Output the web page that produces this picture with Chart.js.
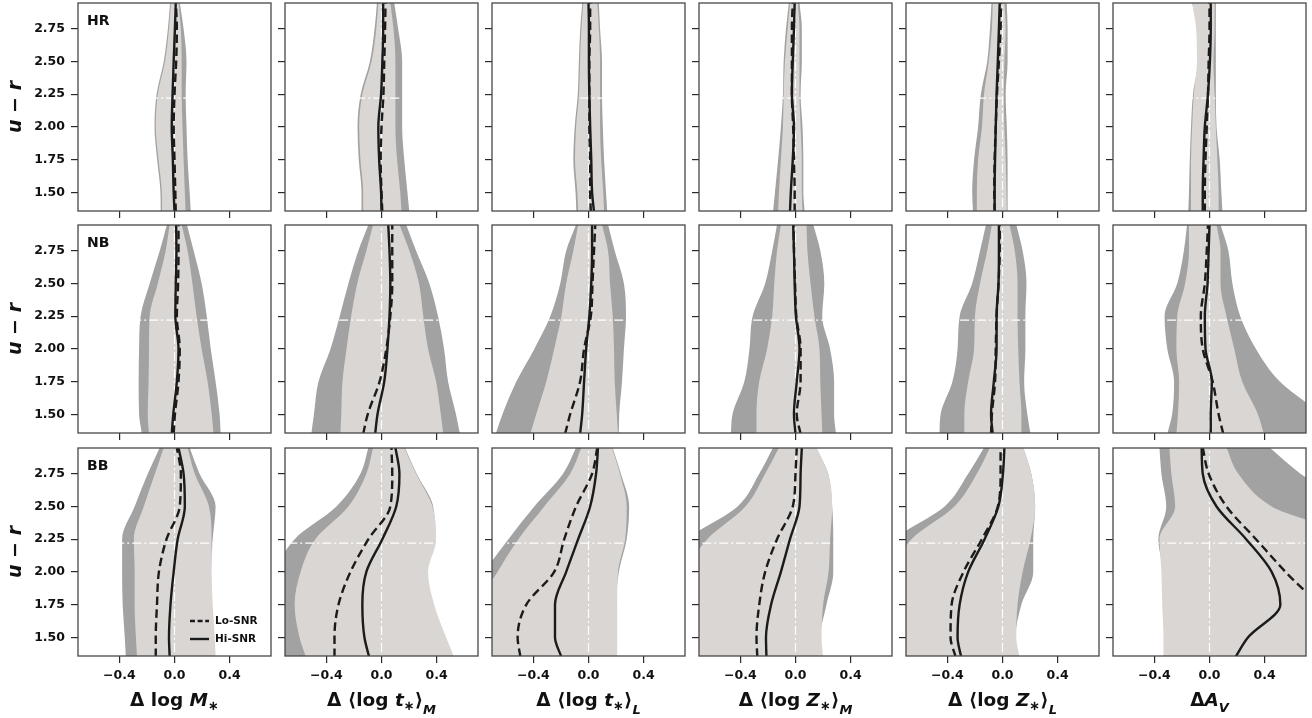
<!DOCTYPE html>
<html>
<head>
<meta charset="utf-8">
<script src="https://cdn.jsdelivr.net/npm/chart.js@4.4.1/dist/chart.umd.min.js"></script>
<style>
  html, body { margin: 0; padding: 0; background: #ffffff; }
  #fig { position: relative; width: 1312px; height: 718px; overflow: hidden; background: #ffffff; }
  #fig canvas { position: absolute; }
</style>
</head>
<body>
<div id="fig"></div>
<script>
// u − r levels at which every curve is sampled (bottom to top)
const uR = [1.35, 1.5, 1.75, 2.0, 2.25, 2.5, 2.75, 2.95];

const xTickVals = [-0.4, 0, 0.4];
const yTickVals = [1.5, 1.75, 2.0, 2.25, 2.5, 2.75];
const xRange = [-0.7, 0.7];
const yRange = [1.357, 2.947];
const crossX = 0;      // zero-offset guide
const crossU = 2.22;   // colour split guide

const rowNames = ['HR', 'NB', 'BB'];
const legendNames = ['Lo-SNR', 'Hi-SNR'];
const yAxisTitle = 'u − r';

// Rows of each panel:
// Lo-SNR band left, Lo-SNR band right, Hi-SNR band left, Hi-SNR band right, Lo-SNR median, Hi-SNR median
const HR_logM = [
  [-0.100, -0.102, -0.126, -0.145, -0.130, -0.078, -0.048, -0.032],
  [ 0.118,  0.110,  0.095,  0.087,  0.081,  0.087,  0.066,  0.038],
  [-0.090, -0.092, -0.116, -0.136, -0.121, -0.069, -0.040, -0.026],
  [ 0.081,  0.075,  0.066,  0.058,  0.052,  0.052,  0.046,  0.029],
  [ 0.009,  0.006,  0.000, -0.006,  0.000,  0.012,  0.017,  0.010],
  [ 0.000, -0.006, -0.012, -0.020, -0.014, -0.006,  0.003,  0.009]
];
const HR_tM = [
  [-0.145, -0.145, -0.165, -0.174, -0.151, -0.084, -0.050, -0.033],
  [ 0.202,  0.188,  0.165,  0.150,  0.150,  0.150,  0.121,  0.092],
  [-0.133, -0.133, -0.153, -0.162, -0.139, -0.072, -0.038, -0.023],
  [ 0.145,  0.136,  0.113,  0.101,  0.101,  0.101,  0.087,  0.064],
  [ 0.006,  0.000, -0.006,  0.000,  0.014,  0.020,  0.026,  0.029],
  [ 0.000, -0.003, -0.017, -0.023, -0.003,  0.006,  0.012,  0.012]
];
const HR_tL = [
  [-0.088, -0.094, -0.110, -0.100, -0.078, -0.070, -0.060, -0.045],
  [ 0.136,  0.127,  0.113,  0.104,  0.098,  0.098,  0.084,  0.075],
  [-0.075, -0.081, -0.098, -0.090, -0.069, -0.061, -0.052, -0.038],
  [ 0.113,  0.107,  0.092,  0.084,  0.084,  0.084,  0.075,  0.064],
  [ 0.017,  0.012,  0.012,  0.006,  0.006,  0.006,  0.012,  0.012],
  [ 0.040,  0.026,  0.020,  0.012,  0.006,  0.003,  0.003,  0.000]
];
const HR_ZM = [
  [-0.163, -0.149, -0.126, -0.106, -0.091, -0.086, -0.069, -0.048],
  [ 0.066,  0.057,  0.057,  0.051,  0.037,  0.046,  0.046,  0.029],
  [-0.126, -0.120, -0.106, -0.091, -0.086, -0.077, -0.057, -0.040],
  [ 0.051,  0.046,  0.046,  0.037,  0.029,  0.029,  0.029,  0.017],
  [-0.006, -0.006, -0.011, -0.017, -0.026, -0.026, -0.026, -0.020],
  [-0.040, -0.034, -0.020, -0.011, -0.026, -0.020, -0.011, -0.006]
];
const HR_ZL = [
  [-0.214, -0.220, -0.206, -0.177, -0.157, -0.111, -0.091, -0.080],
  [ 0.037,  0.037,  0.037,  0.031,  0.023,  0.037,  0.037,  0.031],
  [-0.186, -0.186, -0.177, -0.149, -0.134, -0.100, -0.077, -0.071],
  [ 0.031,  0.029,  0.023,  0.014,  0.009,  0.014,  0.023,  0.014],
  [-0.057, -0.060, -0.057, -0.049, -0.040, -0.026, -0.014, -0.011],
  [-0.057, -0.057, -0.054, -0.049, -0.043, -0.034, -0.026, -0.020]
];
const HR_AV = [
  [-0.154, -0.149, -0.143, -0.134, -0.120, -0.086, -0.091, -0.126],
  [ 0.094,  0.086,  0.074,  0.051,  0.046,  0.046,  0.046,  0.046],
  [-0.134, -0.134, -0.134, -0.126, -0.114, -0.091, -0.097, -0.126],
  [ 0.066,  0.066,  0.057,  0.046,  0.037,  0.029,  0.037,  0.037],
  [-0.034, -0.034, -0.029, -0.020, -0.011, -0.006,  0.000,  0.000],
  [-0.049, -0.049, -0.043, -0.034, -0.011,  0.003,  0.009,  0.009]
];

const NB_logM = [
  [-0.237, -0.257, -0.260, -0.257, -0.246, -0.180, -0.107, -0.055],
  [ 0.335,  0.327,  0.298,  0.263,  0.234,  0.197,  0.139,  0.090],
  [-0.185, -0.194, -0.188, -0.185, -0.180, -0.121, -0.064, -0.035],
  [ 0.283,  0.270,  0.240,  0.197,  0.160,  0.130,  0.095,  0.052],
  [-0.006,  0.003,  0.029,  0.038,  0.017,  0.026,  0.029,  0.029],
  [-0.020, -0.009,  0.017,  0.029,  0.006,  0.009,  0.014,  0.012]
];
const NB_tM = [
  [-0.509, -0.490, -0.457, -0.370, -0.303, -0.240, -0.168, -0.095],
  [ 0.569,  0.540,  0.483,  0.454,  0.410,  0.347,  0.251,  0.179],
  [-0.298, -0.292, -0.283, -0.254, -0.220, -0.176, -0.110, -0.061],
  [ 0.448,  0.430,  0.396,  0.338,  0.303,  0.272,  0.202,  0.130],
  [-0.133, -0.100, -0.014,  0.035,  0.064,  0.078,  0.078,  0.078],
  [-0.046, -0.029,  0.020,  0.043,  0.058,  0.064,  0.058,  0.049]
];
const NB_tL = [
  [-0.673, -0.624, -0.523, -0.393, -0.277, -0.205, -0.162, -0.090],
  [ 0.220,  0.223,  0.243,  0.257,  0.272,  0.257,  0.190,  0.142],
  [-0.422, -0.379, -0.306, -0.249, -0.197, -0.162, -0.110, -0.075],
  [ 0.214,  0.205,  0.190,  0.185,  0.176,  0.156,  0.142,  0.098],
  [-0.170, -0.133, -0.061, -0.032,  0.017,  0.029,  0.040,  0.049],
  [-0.061, -0.046, -0.032, -0.017,  0.006,  0.020,  0.026,  0.026]
];
const NB_ZM = [
  [-0.469, -0.457, -0.371, -0.334, -0.311, -0.220, -0.169, -0.134],
  [ 0.294,  0.280,  0.280,  0.251,  0.194,  0.209,  0.180,  0.129],
  [-0.283, -0.283, -0.263, -0.206, -0.169, -0.154, -0.134, -0.106],
  [ 0.194,  0.189,  0.180,  0.174,  0.137,  0.109,  0.086,  0.080],
  [ 0.037,  0.009,  0.037,  0.037,  0.006, -0.003, -0.011, -0.014],
  [ 0.000, -0.011,  0.009,  0.029,  0.003, -0.006, -0.011, -0.017]
];
const NB_ZL = [
  [-0.457, -0.449, -0.363, -0.326, -0.311, -0.220, -0.163, -0.120],
  [ 0.203,  0.180,  0.157,  0.166,  0.166,  0.174,  0.146,  0.100],
  [-0.277, -0.277, -0.249, -0.206, -0.200, -0.163, -0.111, -0.077],
  [ 0.137,  0.137,  0.123,  0.114,  0.109,  0.109,  0.089,  0.051],
  [-0.083, -0.077, -0.054, -0.049, -0.043, -0.029, -0.020, -0.020],
  [-0.071, -0.083, -0.063, -0.043, -0.043, -0.029, -0.026, -0.026]
];
const NB_AV = [
  [-0.306, -0.271, -0.257, -0.306, -0.326, -0.234, -0.186, -0.163],
  [ 0.900,  0.800,  0.510,  0.337,  0.223,  0.166,  0.137,  0.080],
  [-0.240, -0.229, -0.220, -0.240, -0.234, -0.177, -0.149, -0.149],
  [ 0.394,  0.351,  0.237,  0.180,  0.123,  0.080,  0.080,  0.051],
  [ 0.100,  0.066,  0.023, -0.049, -0.063, -0.034, -0.020, -0.011],
  [ 0.009,  0.009,  0.017, -0.029, -0.034, -0.014, -0.006,  0.000]
];

const BB_logM = [
  [-0.353, -0.361, -0.376, -0.380, -0.380, -0.289, -0.194, -0.107],
  [ 0.290,  0.285,  0.270,  0.265,  0.277,  0.298,  0.182,  0.110],
  [-0.272, -0.280, -0.289, -0.289, -0.295, -0.223, -0.142, -0.078],
  [ 0.298,  0.292,  0.277,  0.269,  0.269,  0.250,  0.147,  0.095],
  [-0.136, -0.136, -0.127, -0.113, -0.058,  0.038,  0.046,  0.017],
  [-0.035, -0.040, -0.029, -0.006,  0.023,  0.075,  0.066,  0.029]
];
const BB_tM = [
  [-0.750, -0.750, -0.750, -0.750, -0.630, -0.327, -0.153, -0.095],
  [ 0.500,  0.450,  0.370,  0.330,  0.390,  0.375,  0.255,  0.170],
  [-0.549, -0.595, -0.630, -0.587, -0.480, -0.240, -0.110, -0.061],
  [ 0.526,  0.468,  0.382,  0.338,  0.396,  0.370,  0.251,  0.165],
  [-0.341, -0.341, -0.312, -0.225, -0.095,  0.064,  0.078,  0.072],
  [-0.090, -0.124, -0.139, -0.110,  0.006,  0.107,  0.130,  0.101]
];
const BB_tL = [
  [-0.850, -0.850, -0.850, -0.750, -0.581, -0.393, -0.185, -0.090],
  [ 0.200,  0.200,  0.200,  0.220,  0.277,  0.295,  0.235,  0.175],
  [-0.800, -0.800, -0.800, -0.660, -0.509, -0.321, -0.133, -0.052],
  [ 0.208,  0.208,  0.208,  0.214,  0.266,  0.277,  0.228,  0.171],
  [-0.494, -0.514, -0.451, -0.249, -0.176, -0.090,  0.026,  0.064],
  [-0.197, -0.243, -0.243, -0.162, -0.075,  0.012,  0.055,  0.069]
];
const BB_ZM = [
  [-0.900, -0.900, -0.900, -0.900, -0.780, -0.420, -0.263, -0.163],
  [ 0.190,  0.180,  0.225,  0.274,  0.274,  0.266,  0.237,  0.151],
  [-0.850, -0.850, -0.850, -0.800, -0.640, -0.363, -0.220, -0.120],
  [ 0.200,  0.189,  0.200,  0.240,  0.251,  0.266,  0.237,  0.151],
  [-0.277, -0.283, -0.263, -0.220, -0.134, -0.020,  0.000,  0.009],
  [-0.211, -0.214, -0.177, -0.106, -0.040,  0.029,  0.037,  0.046]
];
const BB_ZL = [
  [-0.900, -0.900, -0.900, -0.900, -0.780, -0.420, -0.249, -0.134],
  [ 0.115,  0.095,  0.137,  0.223,  0.223,  0.237,  0.209,  0.151],
  [-0.850, -0.850, -0.850, -0.800, -0.660, -0.349, -0.186, -0.091],
  [ 0.123,  0.100,  0.109,  0.146,  0.203,  0.237,  0.209,  0.151],
  [-0.340, -0.377, -0.369, -0.283, -0.150, -0.034, -0.014, -0.014],
  [-0.300, -0.326, -0.311, -0.249, -0.130, -0.030,  0.003,  0.014]
];
const BB_AV = [
  [-0.320, -0.320, -0.330, -0.335, -0.371, -0.314, -0.349, -0.363],
  [ 1.000,  1.000,  1.000,  1.000,  1.000,  1.000,  0.660,  0.437],
  [-0.334, -0.334, -0.343, -0.349, -0.363, -0.249, -0.277, -0.291],
  [ 0.900,  0.900,  0.900,  0.900,  1.000,  0.451,  0.209,  0.123],
  [ 0.950,  0.900,  0.780,  0.551,  0.337,  0.123, -0.006, -0.049],
  [ 0.189,  0.280,  0.514,  0.451,  0.266,  0.051, -0.049, -0.057]
];

// Column axis titles, drawn piece by piece (italic / subscript runs)
const colTitles = [
  [{t: 'Δ log '}, {t: 'M', it: true}, {t: '∗', sub: true, dy: 4}],
  [{t: 'Δ ⟨log '}, {t: 't', it: true}, {t: '∗', sub: true, dy: 4}, {t: '⟩'}, {t: 'M', it: true, sub: true, dy: 8}],
  [{t: 'Δ ⟨log '}, {t: 't', it: true}, {t: '∗', sub: true, dy: 4}, {t: '⟩'}, {t: 'L', it: true, sub: true, dy: 8}],
  [{t: 'Δ ⟨log '}, {t: 'Z', it: true}, {t: '∗', sub: true, dy: 4}, {t: '⟩'}, {t: 'M', it: true, sub: true, dy: 8}],
  [{t: 'Δ ⟨log '}, {t: 'Z', it: true}, {t: '∗', sub: true, dy: 4}, {t: '⟩'}, {t: 'L', it: true, sub: true, dy: 8}],
  [{t: 'Δ'}, {t: 'A', it: true}, {t: 'V', it: true, sub: true, dy: 6}]
];

const grid = [
  [HR_logM, HR_tM, HR_tL, HR_ZM, HR_ZL, HR_AV],
  [NB_logM, NB_tM, NB_tL, NB_ZM, NB_ZL, NB_AV],
  [BB_logM, BB_tM, BB_tL, BB_ZM, BB_ZL, BB_AV]
];

// ---- styling / layout ----
const FONT = '"DejaVu Sans", "Liberation Sans", sans-serif';
const DARK = '#a3a2a3';
const LIGHT = '#dad6d3';
const INK = '#1b1b1b';
const FRAME = '#474747';
const plotW = 193, plotH = 208;
const colLeft = [78, 285, 492, 699, 906, 1113];
const rowTop = [3, 225, 448];

Chart.defaults.font.family = FONT;
Chart.defaults.color = '#111111';

function pts(xs) {
  return xs.map((x, i) => ({x: x, y: uR[i]}));
}

function drawRich(ctx, parts, cx, base) {
  const fontOf = p => (p.it ? 'italic ' : '') + 'bold ' + (p.sub ? 13 : 18.5) + 'px ' + FONT;
  const widths = parts.map(p => { ctx.font = fontOf(p); return ctx.measureText(p.t).width; });
  const total = widths.reduce((a, b) => a + b, 0);
  let x = cx - total / 2;
  ctx.textAlign = 'left';
  ctx.textBaseline = 'alphabetic';
  parts.forEach((p, i) => {
    ctx.font = fontOf(p);
    ctx.fillText(p.t, x, base + (p.dy || 0));
    x += widths[i];
  });
}

// Frame, panel tag, legend and bottom-axis title
const panelDeco = {
  id: 'panelDeco',
  afterDatasetsDraw(chart, args, o) {
    const ctx = chart.ctx;
    const a = chart.chartArea;
    ctx.save();
    ctx.strokeStyle = FRAME;
    ctx.lineWidth = 1.3;
    ctx.setLineDash([]);
    ctx.strokeRect(a.left, a.top, a.right - a.left, a.bottom - a.top);

    ctx.fillStyle = '#111111';
    if (o.tag) {
      ctx.font = 'bold 14px ' + FONT;
      ctx.textAlign = 'left';
      ctx.textBaseline = 'alphabetic';
      ctx.fillText(o.tag, a.left + 9, a.top + 22);
    }
    if (o.legend) {
      const items = [{name: legendNames[0], dash: [5, 2.6]}, {name: legendNames[1], dash: []}];
      items.forEach((it, k) => {
        const y = a.bottom - 35 + 18 * k;
        ctx.strokeStyle = INK;
        ctx.lineWidth = 2.4;
        ctx.setLineDash(it.dash);
        ctx.beginPath();
        ctx.moveTo(a.right - 81, y);
        ctx.lineTo(a.right - 62, y);
        ctx.stroke();
        ctx.setLineDash([]);
        ctx.font = 'bold 10.5px ' + FONT;
        ctx.textAlign = 'left';
        ctx.textBaseline = 'middle';
        ctx.fillText(it.name, a.right - 56, y + 0.5);
      });
    }
    if (o.xTitle) {
      drawRich(ctx, o.xTitle, (a.left + a.right) / 2, a.bottom + 50);
    }
    ctx.restore();
  }
};
Chart.register(panelDeco);

const fig = document.getElementById('fig');

function makePanel(r, c) {
  const d = grid[r][c];
  const ML = c === 0 ? 78 : 12;
  const MB = r === 2 ? 62 : 12;
  const MT = 3, MR = 3;
  const cv = document.createElement('canvas');
  cv.width = ML + plotW + MR;
  cv.height = MT + plotH + MB;
  cv.style.width = cv.width + 'px';
  cv.style.height = cv.height + 'px';
  cv.style.left = (colLeft[c] - ML) + 'px';
  cv.style.top = (rowTop[r] - MT) + 'px';
  fig.appendChild(cv);

  const curve = {pointRadius: 0, cubicInterpolationMode: 'monotone', clip: 0};
  const datasets = [
    Object.assign({label: legendNames[1], data: pts(d[5]), borderColor: INK, borderWidth: 2.4, fill: false, order: 0}, curve),
    Object.assign({label: legendNames[0], data: pts(d[4]), borderColor: INK, borderWidth: 2.4, borderDash: [8.5, 4.5], fill: false, order: 1}, curve),
    {label: 'x0', data: [{x: crossX, y: yRange[0] - 0.1}, {x: crossX, y: yRange[1] + 0.1}],
     borderColor: '#ffffff', borderWidth: 1.2, borderDash: [9, 3, 2, 3], fill: false, tension: 0, pointRadius: 0, clip: 0, order: 2},
    {label: 'u0', data: [{x: xRange[0] - 0.1, y: crossU}, {x: xRange[1] + 0.1, y: crossU}],
     borderColor: '#ffffff', borderWidth: 1.2, borderDash: [9, 3, 2, 3], fill: false, tension: 0, pointRadius: 0, clip: 0, order: 3},
    Object.assign({label: 'hiL', data: pts(d[2]), borderWidth: 0, borderColor: 'rgba(0,0,0,0)', backgroundColor: LIGHT, fill: '+1', order: 4}, curve),
    Object.assign({label: 'hiR', data: pts(d[3]), borderWidth: 0, borderColor: 'rgba(0,0,0,0)', backgroundColor: LIGHT, fill: false, order: 5}, curve),
    Object.assign({label: 'loL', data: pts(d[0]), borderWidth: 0, borderColor: 'rgba(0,0,0,0)', backgroundColor: DARK, fill: '+1', order: 6}, curve),
    Object.assign({label: 'loR', data: pts(d[1]), borderWidth: 0, borderColor: 'rgba(0,0,0,0)', backgroundColor: DARK, fill: false, order: 7}, curve)
  ];

  const tickGrid = {display: true, drawOnChartArea: false, drawTicks: true, tickLength: 7, color: '#2a2a2a', lineWidth: 1.2};

  new Chart(cv, {
    type: 'line',
    data: {datasets: datasets},
    options: {
      indexAxis: 'y',
      responsive: false,
      animation: false,
      devicePixelRatio: 1,
      events: [],
      layout: {padding: {top: MT, right: MR, left: 0, bottom: 0}},
      elements: {line: {capBezierPoints: false}, point: {radius: 0}},
      scales: {
        x: {
          type: 'linear', position: 'bottom', min: xRange[0], max: xRange[1],
          afterBuildTicks: s => { s.ticks = xTickVals.map(v => ({value: v})); },
          afterFit: s => { s.height = MB; s.paddingLeft = 0; s.paddingRight = 0; },
          ticks: {
            display: r === 2, padding: 5, color: '#111111',
            font: {size: 12.5, weight: 'bold'},
            maxRotation: 0,
            callback: v => (v < 0 ? '−' : '') + Math.abs(v).toFixed(1)
          },
          grid: tickGrid,
          border: {display: false}
        },
        y: {
          type: 'linear', position: 'left', min: yRange[0], max: yRange[1],
          afterBuildTicks: s => { s.ticks = yTickVals.map(v => ({value: v})); },
          afterFit: s => { s.width = ML; s.paddingTop = 0; s.paddingBottom = 0; },
          ticks: {
            display: c === 0, padding: 6, color: '#111111',
            font: {size: 12.5, weight: 'bold'},
            callback: v => v.toFixed(2)
          },
          grid: tickGrid,
          border: {display: false},
          title: {
            display: c === 0, text: yAxisTitle, color: '#111111',
            font: {size: 19, weight: 'bold', style: 'italic'},
            padding: {top: 5, bottom: 0}
          }
        }
      },
      plugins: {
        legend: {display: false},
        tooltip: {enabled: false},
        panelDeco: {
          tag: c === 0 ? rowNames[r] : null,
          legend: r === 2 && c === 0,
          xTitle: r === 2 ? colTitles[c] : null
        }
      }
    }
  });
}

for (let r = 0; r < 3; r++) {
  for (let c = 0; c < 6; c++) {
    makePanel(r, c);
  }
}
</script>
</body>
</html>
